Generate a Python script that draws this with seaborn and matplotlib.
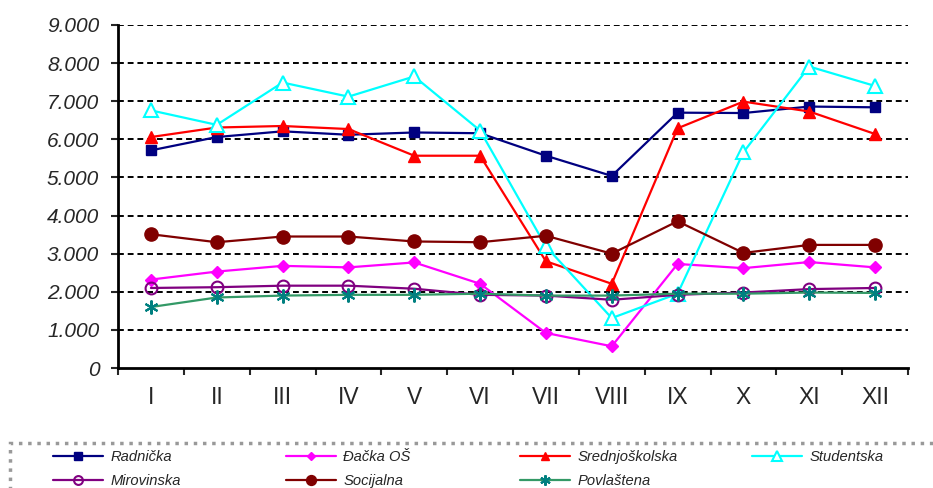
import matplotlib
matplotlib.use("Agg")
import matplotlib.pyplot as plt
from matplotlib.patches import Rectangle
import seaborn as sns
import pandas as pd
import numpy as np

months = ["I", "II", "III", "IV", "V", "VI", "VII", "VIII", "IX", "X", "XI", "XII"]

radnicka = [5710, 6060, 6210, 6120, 6180, 6160, 5570, 5040, 6700, 6690, 6860, 6840]
dacka_os = [2320, 2530, 2680, 2640, 2770, 2210, 920, 570, 2730, 2620, 2780, 2640]
srednjoskolska = [6060, 6310, 6350, 6270, 5570, 5570, 2800, 2210, 6290, 6990, 6730, 6140]
studentska = [6760, 6380, 7490, 7120, 7650, 6230, 3190, 1310, 1950, 5660, 7910, 7400]
mirovinska = [2100, 2120, 2160, 2160, 2080, 1920, 1900, 1790, 1920, 1980, 2070, 2100]
socijalna = [3510, 3300, 3450, 3450, 3320, 3300, 3470, 3000, 3850, 3020, 3230, 3230]
povlastena = [1600, 1850, 1900, 1920, 1920, 1950, 1900, 1900, 1950, 1950, 1980, 1970]

y_ticks = [0, 1000, 2000, 3000, 4000, 5000, 6000, 7000, 8000, 9000]
y_labels = ["0", "1.000", "2.000", "3.000", "4.000", "5.000", "6.000", "7.000", "8.000", "9.000"]

series = [
    ("Radnička", radnicka, dict(color="#000080", marker="s", mfc="#000080", mec="#000080", ms=7.5)),
    ("Đačka OŠ", dacka_os, dict(color="#FF00FF", marker="D", mfc="#FF00FF", mec="#FF00FF", ms=6)),
    ("Srednjoškolska", srednjoskolska, dict(color="#FF0000", marker="^", mfc="#FF0000", mec="#FF0000", ms=8)),
    ("Studentska", studentska, dict(color="#00FFFF", marker="^", mfc="white", mec="#00FFFF", ms=10, mew=1.5)),
    ("Mirovinska", mirovinska, dict(color="#800080", marker="o", mfc="none", mec="#800080", ms=8.5, mew=1.5)),
    ("Socijalna", socijalna, dict(color="#800000", marker="o", mfc="#800000", mec="#800000", ms=9.5)),
    ("Povlaštena", povlastena, dict(color="#339966", marker=(6, 2, 0), mfc="#008080", mec="#008080", ms=10, mew=1.5)),
]

sns.set_style("white")
plt.rcParams["font.family"] = ["Liberation Sans", "DejaVu Sans"]

fig = plt.figure(figsize=(9.33, 4.88), dpi=100)
ax = fig.add_axes([118 / 933, 1 - 368 / 488, (908 - 118) / 933, (368 - 25) / 488])

x = np.arange(len(months))
for name, vals, st in series:
    df = pd.DataFrame({"month": x, "value": vals})
    sns.lineplot(data=df, x="month", y="value", ax=ax, label=name,
                 color=st["color"], marker=st["marker"], markersize=st["ms"],
                 markerfacecolor=st["mfc"], markeredgecolor=st["mec"],
                 markeredgewidth=st.get("mew", 1.0), linewidth=1.6,
                 zorder=3)

ax.set_xlim(-0.5, 11.5)
ax.set_ylim(0, 9000)

# grid lines
for yv in y_ticks[1:]:
    ax.axhline(yv, color="black", linestyle=(0, (3, 2)), linewidth=1.4, zorder=1)

ax.set_yticks(y_ticks)
ax.set_yticklabels(y_labels, fontsize=15, style="italic")
ax.tick_params(axis="y", length=5, width=1.5, pad=8.5, direction="out", left=True)

ax.set_xticks(np.arange(-0.5, 12, 1.0))
ax.set_xticklabels([])
ax.set_xticks(x, minor=True)
ax.set_xticklabels(months, minor=True, fontsize=16.5)
ax.tick_params(axis="x", which="major", length=5, width=1.5, direction="out", bottom=True)
ax.tick_params(axis="x", which="minor", length=0, pad=13)

ax.set_xlabel("")
ax.set_ylabel("")
for s in ["top", "right"]:
    ax.spines[s].set_visible(False)
for s in ["left", "bottom"]:
    ax.spines[s].set_color("black")
    ax.spines[s].set_linewidth(2)

handles, labels = ax.get_legend_handles_labels()
ax.get_legend().remove()

# legend frame (dotted gray border)
frame = Rectangle((10 / 933, -0.05), 1.0, 1 - 443 / 488 + 0.05, transform=fig.transFigure,
                  facecolor="white", edgecolor="#999999", linewidth=2.5, linestyle=":",
                  zorder=0)
fig.patches.append(frame)

# four legend columns, equally spaced (row-major order of entries)
col_x = [53, 286, 520, 752]
columns = [[0, 4], [1, 5], [2, 6], [3]]
for cx, idx in zip(col_x, columns):
    cy = 469 if len(idx) == 2 else 457
    fig.legend([handles[i] for i in idx], [labels[i] for i in idx],
               loc="center left", bbox_to_anchor=(cx / 933, 1 - cy / 488),
               prop=dict(size=10.6, style="italic"), frameon=False,
               handlelength=3.4, handletextpad=0.5, markerscale=0.75,
               borderaxespad=0, borderpad=0.0, labelspacing=0.7)

fig.savefig("out.png", dpi=100)
